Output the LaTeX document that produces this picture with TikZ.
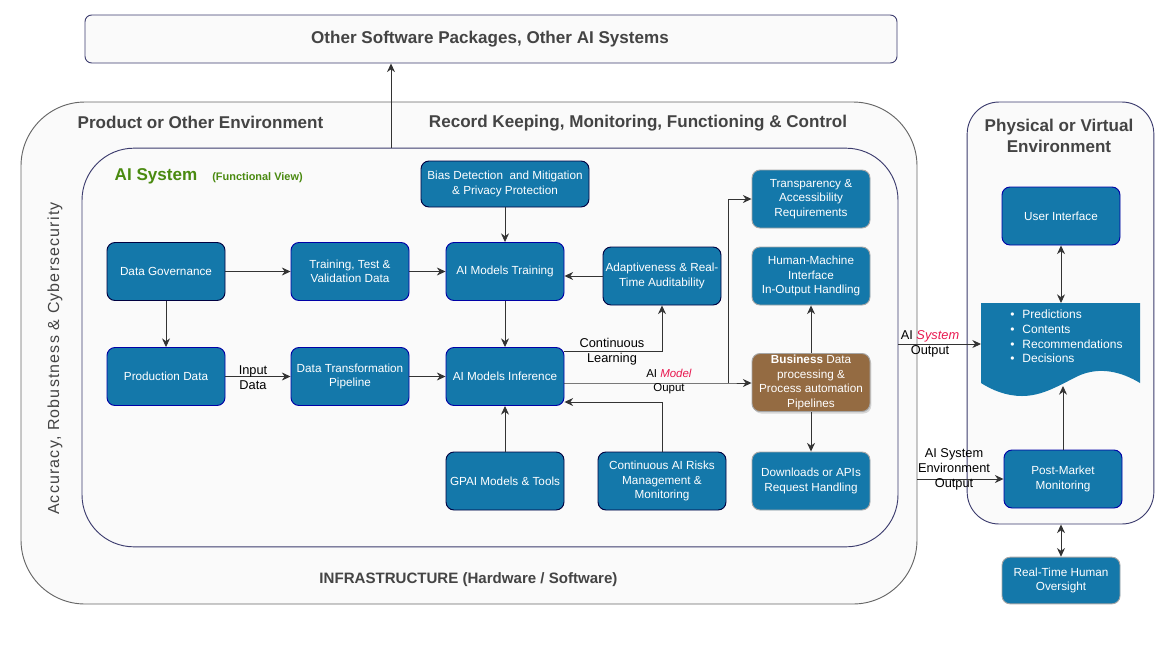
\documentclass[tikz,border=0pt]{standalone}
\usepackage{fontspec}
\setmainfont{Liberation Sans}
\newfontfamily\accfont[LetterSpace=7.3]{Liberation Sans}
\usetikzlibrary{arrows.meta,shadows}

\definecolor{boxblue}{HTML}{1478AA}
\definecolor{boxbrown}{HTML}{946B42}
\definecolor{panelbg}{HTML}{FAFAFA}
\definecolor{titlegrey}{HTML}{444444}
\definecolor{sysgreen}{HTML}{4A8A10}
\definecolor{outred}{HTML}{E8174F}
\definecolor{panelnavy}{HTML}{3C3C6E}

\tikzset{
  stepbox/.style={rectangle,rounded corners=6pt,fill=boxblue,text=white,align=center,
    minimum width=88.5pt,minimum height=43.5pt,inner sep=0pt,line width=0.7pt,
    font=\fontsize{8.8}{10.9}\selectfont},
  bluebox/.style={stepbox,draw=blue!65!black},
  darkbox/.style={stepbox,draw=black!75!blue},
  greybox/.style={stepbox,draw=black!35},
  panel/.style={rectangle,fill=panelbg,minimum width=#1,line width=0.7pt},
  heading/.style={text=titlegrey,font=\fontsize{12.8}{15.6}\selectfont\bfseries,inner sep=0pt},
  flow/.style={-{Stealth[length=6.5pt,width=6pt]},line width=0.65pt,black!80},
  flowboth/.style={{Stealth[length=6.5pt,width=6pt]}-{Stealth[length=6.5pt,width=6pt]},line width=0.65pt,black!80},
  tag/.style={font=\fontsize{9.6}{11.2}\selectfont,align=center,inner sep=0pt},
}

\begin{document}
\begin{tikzpicture}[x=0.75pt,y=-0.75pt]
\useasboundingbox (0,0) rectangle (1171,658);

%%% panels %%%

  \node (Top) at (491,39) [panel=609pt,minimum height=36pt,rounded corners=5pt,draw=panelnavy] {};
  \node (Outer) at (469,353) [panel=672pt,minimum height=376.5pt,rounded corners=48pt,draw=black!60] {};
  \node (Inner) at (490,347.5) [panel=612pt,minimum height=299pt,rounded corners=39pt,draw=panelnavy] {};
  \node (Env) at (1060.5,313) [panel=140pt,minimum height=316.5pt,rounded corners=24pt,draw=panelnavy] {};

%%% headings %%%

  \node (TopT) at (490,39) [heading] {Other Software Packages, Other AI Systems};
  \node (ProdT) at (200.5,122) [heading] {Product or Other Environment};
  \node (RecT) at (638,123) [heading] {Record Keeping, Monitoring, Functioning \& Control};
  \node (EnvT) at (1059,136) [heading,align=center] {Physical or Virtual\\Environment};
  \node (SysT) at (156,176) [heading,text=sysgreen] {AI System};
  \node (ViewT) at (257.5,178) [tag,text=sysgreen,font=\fontsize{8.2}{10}\selectfont\bfseries] {(Functional View)};
  \node (AccT) at (55,358.5) [rotate=90,text=titlegrey,inner sep=0pt,font=\accfont\fontsize{12}{14}\selectfont] {Accuracy, Robustness \& Cybersecurity};
  \node (InfT) at (468.5,580) [text=titlegrey,inner sep=0pt,font=\fontsize{11.3}{13}\selectfont\bfseries] {INFRASTRUCTURE (Hardware / Software)};

%%% boxes %%%

  \node (Bias) at (505,184) [darkbox,minimum width=126pt,minimum height=34.5pt] {Bias Detection\ \ and Mitigation\\\& Privacy Protection};
  \node (Gov) at (166,271.5) [darkbox] {Data Governance};
  \node (Data) at (350,271.5) [bluebox] {Training, Test \&\\Validation Data};
  \node (Train) at (505,271.5) [bluebox] {AI Models Training};
  \node (Adapt) at (662,276) [darkbox] {Adaptiveness \& Real-\\Time Auditability};
  \node (Transp) at (811,199) [greybox] {Transparency \&\\Accessibility\\Requirements};
  \node (Hmi) at (811,276) [greybox] {Human-Machine\\Interface\\In-Output Handling};
  \node (Prod) at (166,376.5) [bluebox] {Production Data};
  \node (Pipe) at (350,376.5) [bluebox] {Data Transformation\\Pipeline};
  \node (Infer) at (505,376.5) [bluebox] {AI Models Inference};
  \node (Biz) at (811,382.5) [greybox,fill=boxbrown,drop shadow={opacity=0.3,shadow xshift=1pt,shadow yshift=-1.5pt}] {\textbf{Business} Data\\processing \&\\Process automation\\Pipelines};
  \node (Gpai) at (505,481) [darkbox] {GPAI Models \& Tools};
  \node (Risk) at (662,481) [darkbox,minimum width=96pt] {Continuous AI Risks\\Management \&\\Monitoring};
  \node (Down) at (811,481) [greybox] {Downloads or APIs\\Request Handling};
  \node (Ui) at (1061,216) [bluebox] {User Interface};
  \node (Post) at (1063,479) [bluebox] {Post-Market\\Monitoring};
  \node (Human) at (1061,580.5) [greybox,minimum height=35pt] {Real-Time Human\\Oversight};

%%% output document %%%

  \fill[boxblue] (981,303) -- (1140,303) -- (1140,383)
     .. controls (1122,372) and (1100,366) .. (1078,376)
     .. controls (1058,386) and (1042,396) .. (1022,396)
     .. controls (1006,396) and (992,390) .. (981,383) -- cycle;
  \node (Doc) at (1010,336.5) [anchor=west,inner sep=0pt,text=white,align=left,font=\fontsize{9}{10.9}\selectfont]
     {\textbullet\hspace{6pt}Predictions\\\textbullet\hspace{6pt}Contents\\\textbullet\hspace{6pt}Recommendations\\\textbullet\hspace{6pt}Decisions};

  \coordinate (Up) at (391,148);
  \coordinate (DocTop) at (1061,303);
  \coordinate (DocLeft) at (981,344);
  \coordinate (DocWave) at (1063,386);
  \coordinate (InEdge) at (898,344);
  \coordinate (OutEdge) at (917,479);
  \coordinate (Turn) at (728,383);

%%% connectors %%%

\draw[flow] (Up) to (Up |- Top.south);
\draw[flow] (Bias) to (Train);
\draw[flow] (Gov) to (Data);
\draw[flow] (Data) to (Train);
\draw[flow] (Adapt.west) to (Adapt.west -| Train.east);
\draw[flow] (Gov) to (Prod);
\draw[flow] (Prod) to (Pipe);
\draw[flow] (Pipe) to (Infer);
\draw[flow] (Train) to (Infer);
\draw[flow] (Gpai) to (Infer);
\draw[flow] (Infer.east |- 0,351) -| (Adapt.south);
\draw[flow] (Risk.north) |- (Infer.east |- 0,402);
\draw[flow] (Infer.east |- Turn) to (Turn) to (Turn -| Biz.west);
\draw[flow] (Turn) |- (Transp.west);
\draw[flow] (Biz) to (Hmi);
\draw[flow] (Biz) to (Down);
\draw[flow] (InEdge) to (DocLeft);
\draw[flow] (OutEdge) to (Post.west);
\draw[flow] (Post) to (DocWave);
\draw[flowboth] (Ui) to (DocTop);
\draw[flowboth] (Env.south -| DocTop) to (Human);

%%% connector labels %%%

\draw (612,351.5) node [tag] {Continuous\\Learning};
\draw (253,377.5) node [tag] {Input\\Data};
\draw (669,382) node [tag,font=\fontsize{8.6}{10.5}\selectfont] {AI \textcolor{outred}{\textit{Model}}\\Ouput};
\draw (930,343.5) node [tag] {AI \textcolor{outred}{\textit{System}}\\Output};
\draw (954,469.5) node [tag] {AI System\\Environment\\Output};
\end{tikzpicture}
\end{document}
